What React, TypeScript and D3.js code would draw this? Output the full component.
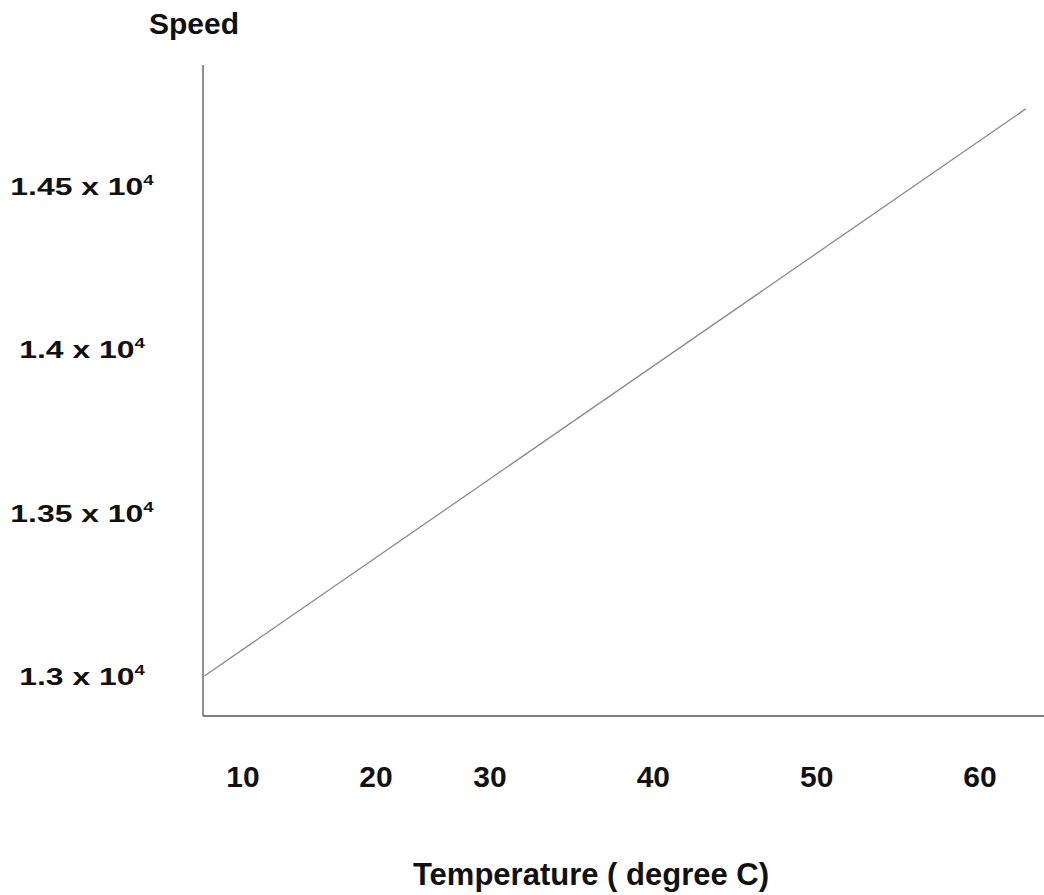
import React from "react";
import * as d3 from "d3";

// data
const temperatures = [7.1, 62.8];
const speeds = [13000, 14736];

const xTicks = [10, 20, 30, 40, 50, 60];
const yTicks = [13000, 13500, 14000, 14500];
const yTickMantissa = ["1.3", "1.35", "1.4", "1.45"];
const xLabel = "Temperature ( degree C)";
const yLabel = "Speed";

const W = 1044;
const H = 895;
const plotLeft = 203;
const plotRight = 1044;
const plotTop = 65;
const plotBottom = 716;

const font = "'Liberation Sans', Arial, Helvetica, sans-serif";

const App = () => {
  // the printed ticks are not evenly spaced, so the scale is piecewise
  const x = d3.scaleLinear().domain([10, 20, 30, 60]).range([243, 376, 490, 980]);
  const y = d3.scaleLinear().domain([13000, 14500]).range([676, 186]);

  const points = temperatures.map((t, i) => [t, speeds[i]] as [number, number]);
  const line = d3
    .line<[number, number]>()
    .x((d) => x(d[0]))
    .y((d) => y(d[1]));

  return (
    <svg
      width={W}
      height={H}
      style={{ position: "absolute", left: 0, top: 0, background: "#fff" }}
      fontFamily={font}
      fontWeight="bold"
    >
      <rect width={W} height={H} fill="#fff" />

      {/* axes */}
      <line x1={plotLeft} x2={plotLeft} y1={plotTop} y2={plotBottom} stroke="#555" strokeWidth={1.3} />
      <line x1={plotLeft} x2={plotRight} y1={plotBottom} y2={plotBottom} stroke="#555" strokeWidth={1.3} />

      {/* series */}
      <path d={line(points) || ""} fill="none" stroke="#8a8a8a" strokeWidth={1.3} />

      {/* x tick labels */}
      {xTicks.map((t) => (
        <text key={t} x={x(t)} y={787} textAnchor="middle" fontSize={30} fill="#111">
          {t}
        </text>
      ))}

      {/* y tick labels, e.g. 1.45 x 10^4 */}
      {yTicks.map((t, i) => (
        <g key={t} transform={`translate(82,${y(t) + 9}) scale(1.33,1)`}>
          <text x={0} y={0} textAnchor="middle" fontSize={24} fill="#111">
            {yTickMantissa[i]} x 10
            <tspan fontSize={14} dy={-10}>
              4
            </tspan>
          </text>
        </g>
      ))}

      {/* axis titles */}
      <text x={149} y={34} fontSize={30} fill="#111">
        {yLabel}
      </text>
      <text x={591} y={885} textAnchor="middle" fontSize={31} fill="#111">
        {xLabel}
      </text>
    </svg>
  );
};

export default App;
